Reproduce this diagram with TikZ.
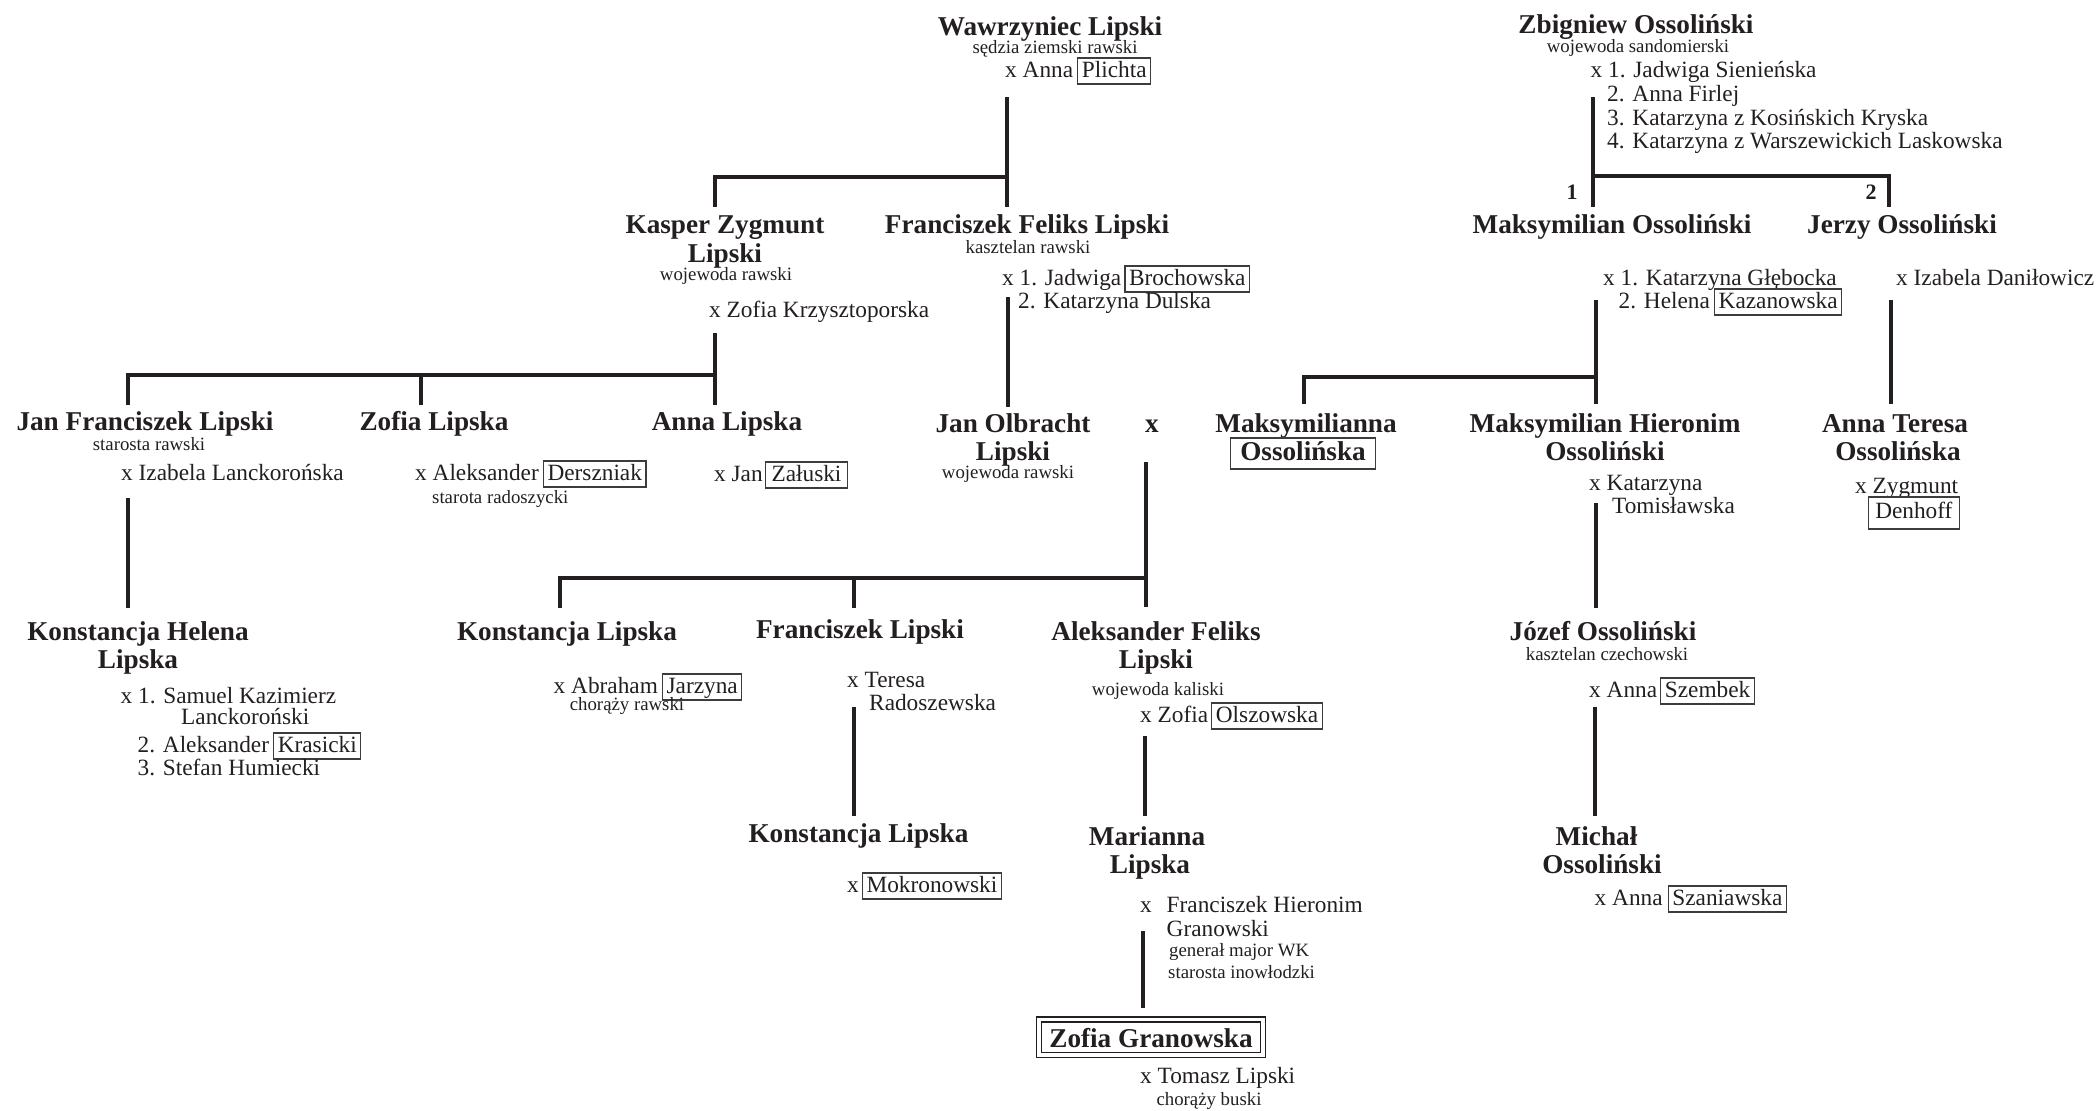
\documentclass[tikz,border=0pt]{standalone}
\usepackage{fontspec}
\setmainfont{Liberation Serif}
\definecolor{ink}{HTML}{231F20}
\definecolor{boxc}{HTML}{3C3C3C}
\newcommand\fnm{\fontsize{27.2}{29}\selectfont\bfseries}
\newcommand\frg{\fontsize{23.3}{24.3}\selectfont}
\newcommand\fsm{\fontsize{18.8}{20}\selectfont}
\newcommand\fnum{\fontsize{22}{24}\selectfont\bfseries}
\begin{document}
\begin{tikzpicture}[x=1pt,y=-1pt,
  nm/.style={font=\fnm,text=ink,inner sep=0pt,anchor=base},
  rg/.style={font=\frg,text=ink,inner sep=0pt,anchor=base west},
  sm/.style={font=\fsm,text=ink,inner sep=0pt,anchor=base},
  smw/.style={sm,anchor=base west},
  bxr/.style={font=\frg,text=ink,draw=boxc,line width=1.1pt,inner xsep=4pt,inner ysep=0pt,text height=19pt,text depth=7pt,anchor=base west},
  ln/.style={draw=ink,line width=4pt},
]
\fill[white] (0,0) rectangle (2099,1111);
\useasboundingbox (0,0) rectangle (2099,1111);

% ---------------- Lipski ----------------
\node[nm] (w1) at (1050,35) {Wawrzyniec Lipski};
\node[sm] (w1t) at (1055,53) {sędzia ziemski rawski};
\node[rg] (w1s) at (1005,77) {x Anna};
\node[bxr] (w1b) at ([xshift=4pt]w1s.base east) {Plichta};

\node[nm] (k1) at (725,233) {Kasper Zygmunt};
\node[nm] (k1b) at (725,262) {Lipski};
\node[sm] (k1t) at (726,280) {wojewoda rawski};
\node[rg] (k1s) at (709,317) {x Zofia Krzysztoporska};

\node[nm] (f1) at (1027,233) {Franciszek Feliks Lipski};
\node[sm] (f1t) at (1028,253) {kasztelan rawski};
\node[rg] (f1s) at (1002,285) {x 1. Jadwiga};
\node[bxr] (f1b) at ([xshift=3pt]f1s.base east) {Brochowska};
\node[rg] (f1s2) at (1018,308) {2. Katarzyna Dulska};

\node[nm] (jf) at (145,430) {Jan Franciszek Lipski};
\node[sm] (jft) at (149,450) {starosta rawski};
\node[rg] (jfs) at (121,480) {x Izabela Lanckorońska};

\node[nm] (zl) at (434,430) {Zofia Lipska};
\node[rg] (zls) at (415,480) {x Aleksander};
\node[bxr] (zlb) at ([xshift=4pt]zls.base east) {Derszniak};
\node[smw] (zlt) at (432,503) {starota radoszycki};

\node[nm] (al) at (727,430) {Anna Lipska};
\node[rg] (als) at (714,481) {x Jan};
\node[bxr,minimum width=82pt] (alb) at ([xshift=2pt]als.base east) {Załuski};

\node[nm] (jo) at (1013,432) {Jan Olbracht};
\node[nm] (job) at (1013,460) {Lipski};
\node[sm] (jot) at (1008,478) {wojewoda rawski};
\node[nm] (x1) at (1152,432) {x};

\node[nm] (kh) at (138,640) {Konstancja Helena};
\node[nm] (khb) at (138,668) {Lipska};
\node[rg] (khs1) at (120.5,703) {x 1. Samuel Kazimierz};
\node[rg] (khs2) at (181,724) {Lanckoroński};
\node[rg] (khs3) at (137.5,752) {2. Aleksander};
\node[bxr] (khb3) at ([xshift=4pt]khs3.base east) {Krasicki};
\node[rg] (khs4) at (137.5,775) {3. Stefan Humiecki};

\node[nm] (kl) at (567,640) {Konstancja Lipska};
\node[rg] (kls) at (553.5,693) {x Abraham};
\node[bxr] (klb) at ([xshift=4pt]kls.base east) {Jarzyna};
\node[sm] (klt) at (627,710) {chorąży rawski};

\node[nm] (fl) at (860,638) {Franciszek Lipski};
\node[rg] (fls1) at (847,687) {x Teresa};
\node[rg] (fls2) at (869,710) {Radoszewska};

\node[nm] (af) at (1156,640) {Aleksander Feliks};
\node[nm] (afb) at (1156,668) {Lipski};
\node[sm] (aft) at (1158,695) {wojewoda kaliski};
\node[rg] (afs) at (1140,722) {x Zofia};
\node[bxr] (afbx) at ([xshift=3pt]afs.base east) {Olszowska};

\node[nm] (kl2) at (858.5,842) {Konstancja Lipska};
\node[rg] (kl2s) at (847,892) {x};
\node[bxr] (kl2b) at ([xshift=3pt]kl2s.base east) {Mokronowski};

\node[nm] (ma) at (1147,845) {Marianna};
\node[nm] (mab) at (1150,873) {Lipska};
\node[rg] (max) at (1140,912) {x};
\node[rg] (mas1) at (1166.5,912) {Franciszek Hieronim};
\node[rg] (mas2) at (1166.5,936) {Granowski};
\node[smw] (mat1) at (1169,956) {generał major WK};
\node[smw] (mat2) at (1168,978) {starosta inowłodzki};

\node[nm,draw=ink,line width=1.2pt,double=white,double distance=3.8pt,inner xsep=10.5pt,inner ysep=0pt,text height=27.5pt,text depth=8pt] (zg) at (1151,1047) {Zofia Granowska};
\node[rg] (zgs) at (1140,1083) {x Tomasz Lipski};
\node[sm] (zgt) at (1209,1105) {chorąży buski};

% ---------------- Ossoliński ----------------
\node[nm] (zo) at (1636,33) {Zbigniew Ossoliński};
\node[sm] (zot) at (1638,52) {wojewoda sandomierski};
\node[rg] (zos1) at (1590.5,77) {x 1. Jadwiga Sienieńska};
\node[rg] (zos2) at (1607,101) {2. Anna Firlej};
\node[rg] (zos3) at (1607,125) {3. Katarzyna z Kosińskich Kryska};
\node[rg] (zos4) at (1607,148) {4. Katarzyna z Warszewickich Laskowska};
\node[font=\fnum,text=ink,inner sep=0pt,anchor=base] (n1) at (1572,199) {1};
\node[font=\fnum,text=ink,inner sep=0pt,anchor=base] (n2) at (1871,199) {2};

\node[nm] (mo) at (1612,233) {Maksymilian Ossoliński};
\node[nm] (je) at (1902,233) {Jerzy Ossoliński};
\node[rg] (mos1) at (1603,285) {x 1. Katarzyna Głębocka};
\node[rg] (mos2) at (1618.5,308) {2. Helena};
\node[bxr] (mob2) at ([xshift=4pt]mos2.base east) {Kazanowska};
\node[rg] (jes) at (1896,285) {x Izabela Daniłowicz};

\node[nm] (my) at (1306,432) {Maksymilianna};
\node[nm,draw=boxc,line width=1.1pt,inner xsep=10pt,inner ysep=0pt,text height=22pt,text depth=9pt] (myb) at (1303,460) {Ossolińska};

\node[nm] (mh) at (1605,432) {Maksymilian Hieronim};
\node[nm] (mhb) at (1605,460) {Ossoliński};
\node[rg] (mhs1) at (1589,490) {x Katarzyna};
\node[rg] (mhs2) at (1612,513) {Tomisławska};

\node[nm] (at) at (1895,432) {Anna Teresa};
\node[nm] (atb) at (1898,460) {Ossolińska};
\node[rg] (ats1) at (1855,493) {x Zygmunt};
\node[bxr,inner xsep=6.7pt,text height=21pt,text depth=11pt] (atd) at (1868,518) {Denhoff};

\node[nm] (jz) at (1603,640) {Józef Ossoliński};
\node[sm] (jzt) at (1607,660) {kasztelan czechowski};
\node[rg] (jzs) at (1589,697) {x Anna};
\node[bxr] (jzb) at ([xshift=3pt]jzs.base east) {Szembek};

\node[nm] (mi) at (1596.5,845) {Michał};
\node[nm] (mib) at (1602,873) {Ossoliński};
\node[rg] (mis) at (1594.5,905) {x Anna};
\node[bxr] (mibx) at ([xshift=5pt]mis.base east) {Szaniawska};

% ---------------- connector coordinates ----------------
\coordinate (w1a) at (1007,97);   \coordinate (w1z) at (1007,207);
\coordinate (w1m) at (1007,177);  \coordinate (w1c) at (715,177);
\coordinate (w1d) at (715,207);

\coordinate (k1a) at (715,333);   \coordinate (k1z) at (715,405);
\coordinate (k1m) at (715,375);   \coordinate (k1h) at (128,375);
\coordinate (k1c) at (128,405);   \coordinate (k1e) at (420.5,375);
\coordinate (k1f) at (420.5,405);

\coordinate (f1a) at (1008,297);  \coordinate (f1z) at (1008,407);
\coordinate (jfa) at (128,498);   \coordinate (jfz) at (128,608);

\coordinate (xa) at (1145.5,462); \coordinate (xz) at (1145.5,607);
\coordinate (xm) at (1145.5,578); \coordinate (xl) at (560,578);
\coordinate (xld) at (560,608);   \coordinate (xc) at (853.6,578);
\coordinate (xcd) at (853.6,608);

\coordinate (fla) at (853.6,707); \coordinate (flz) at (853.6,816);
\coordinate (afa) at (1144.6,736);\coordinate (afz) at (1144.6,816);
\coordinate (maa) at (1143,931);  \coordinate (maz) at (1143,1008);

\coordinate (zoa) at (1593,97);   \coordinate (zoz) at (1593,207);
\coordinate (zom) at (1593,176);  \coordinate (zor) at (1889,176);
\coordinate (zord) at (1889,207);

\coordinate (moa) at (1595.5,300);\coordinate (moz) at (1595.5,404);
\coordinate (mom) at (1595.5,377);\coordinate (mol) at (1304,377);
\coordinate (mold) at (1304,404);
\coordinate (jea) at (1891,300);  \coordinate (jez) at (1891,404);
\coordinate (mha) at (1595.5,503);\coordinate (mhz) at (1595.5,608);
\coordinate (jza) at (1594.5,707);\coordinate (jzz) at (1594.5,816);

% ---------------- connectors ----------------
\draw[ln] (w1a) -- (w1z);
\draw[ln] (w1d) -- (w1c) -- (w1m);
\draw[ln] (k1a) -- (k1z);
\draw[ln] (k1c) -- (k1h) -- (k1m);
\draw[ln] (k1e) -- (k1f);
\draw[ln] (f1a) -- (f1z);
\draw[ln] (jfa) -- (jfz);
\draw[ln] (xa) -- (xz);
\draw[ln] (xld) -- (xl) -- (xm);
\draw[ln] (xc) -- (xcd);
\draw[ln] (fla) -- (flz);
\draw[ln] (afa) -- (afz);
\draw[ln] (maa) -- (maz);
\draw[ln] (zoa) -- (zoz);
\draw[ln] (zom) -- (zor) -- (zord);
\draw[ln] (moa) -- (moz);
\draw[ln] (mold) -- (mol) -- (mom);
\draw[ln] (jea) -- (jez);
\draw[ln] (mha) -- (mhz);
\draw[ln] (jza) -- (jzz);
\end{tikzpicture}
\end{document}
